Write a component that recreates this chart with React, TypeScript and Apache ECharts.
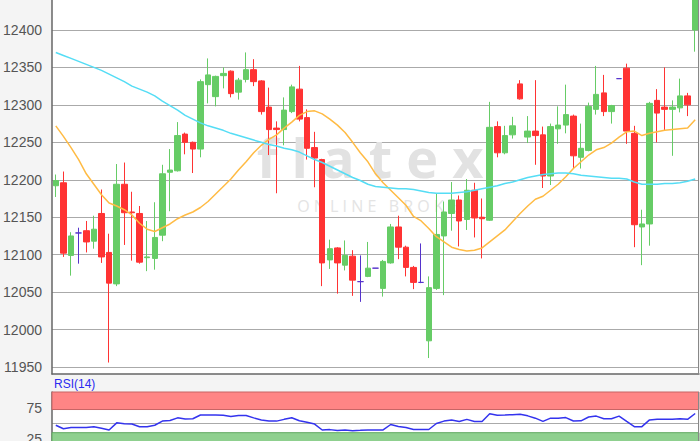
import React, { useEffect, useRef } from "react";
import * as echarts from "echarts";

const opens = [12192,12196,12099,12129,12132,12118,12155,12103,12061,12194,12157,12155,12096,12095,12126,12210,12212,12261,12250,12241,12327,12311,12339,12345,12317,12334,12347,12332,12297,12269,12267,12291,12321,12283,12243,12227,12093,12109,12086,12098,12064,12071,12082,12055,12089,12137,12110,12083,12063,11985,12055,12125,12155,12173,12147,12186,12150,12146,12271,12236,12260,12328,12257,12265,12260,12205,12268,12273,12285,12230,12239,12294,12316,12291,12335,12349,12262,12137,12141,12306,12297,12294,12296,12312,12400];
const closes = [12199,12102,12125,12129,12117,12134,12097,12062,12194,12156,12156,12090,12097,12123,12208,12213,12259,12250,12241,12331,12340,12338,12342,12315,12333,12347,12331,12291,12267,12267,12293,12324,12281,12242,12229,12089,12108,12089,12099,12066,12064,12082,12082,12091,12137,12110,12083,12063,12063,12056,12127,12157,12173,12145,12186,12149,12148,12270,12236,12259,12272,12308,12265,12259,12205,12271,12273,12287,12232,12242,12298,12314,12291,12299,12335,12265,12140,12141,12302,12289,12294,12297,12312,12300,12470];
const lows = [12177,12097,12072,12088,12103,12108,12089,11956,12058,12113,12092,12088,12078,12080,12118,12158,12211,12234,12209,12230,12302,12298,12322,12310,12307,12330,12325,12287,12233,12182,12246,12289,12278,12227,12190,12058,12081,12048,12079,12045,12037,12070,12082,12044,12088,12094,12071,12054,12062,11962,12053,12046,12132,12111,12133,12123,12095,12145,12230,12234,12255,12307,12249,12220,12189,12193,12248,12262,12215,12215,12238,12287,12285,12275,12335,12248,12110,12086,12112,12250,12266,12232,12290,12285,12371];
const highs = [12207,12211,12130,12136,12145,12152,12187,12128,12221,12223,12184,12165,12145,12170,12220,12241,12277,12263,12251,12334,12362,12339,12350,12346,12336,12370,12361,12333,12323,12278,12310,12327,12352,12294,12264,12228,12120,12110,12119,12106,12099,12117,12082,12093,12141,12152,12112,12085,12115,12071,12182,12171,12197,12179,12201,12196,12175,12304,12278,12272,12284,12333,12285,12333,12271,12275,12298,12327,12287,12275,12303,12352,12340,12300,12335,12355,12272,12160,12304,12321,12350,12306,12335,12316,12480];

const maShort = [12272,12258,12243,12227,12208,12194,12180,12169,12165,12160,12153,12142,12134,12131,12136,12141,12148,12153,12157,12163,12171,12181,12191,12201,12213,12224,12236,12246,12254,12260,12269,12277,12286,12291,12292,12288,12281,12273,12263,12250,12236,12224,12208,12196,12186,12176,12166,12151,12145,12135,12124,12117,12110,12107,12105,12106,12109,12117,12125,12133,12144,12155,12165,12174,12178,12186,12194,12204,12215,12224,12233,12240,12243,12249,12257,12264,12265,12259,12262,12264,12266,12267,12268,12269,12280];
const maLong = [12370,12366,12362,12358,12354,12350,12346,12341,12336,12331,12325,12321,12317,12312,12305,12299,12293,12286,12281,12276,12272,12269,12266,12262,12259,12256,12253,12250,12247,12245,12242,12240,12237,12232,12227,12223,12218,12213,12208,12203,12199,12194,12191,12190,12189,12188,12188,12187,12185,12183,12182,12182,12182,12183,12184,12186,12188,12190,12192,12195,12197,12200,12203,12205,12207,12208,12209,12209,12208,12206,12205,12204,12203,12202,12202,12201,12197,12194,12194,12194,12195,12195,12196,12198,12201];
const rsi = [46.9,41.3,43.2,43.2,43.2,44.6,42.2,39.4,50.7,49.4,48.8,44.6,44.6,46.9,53.5,54.4,58.7,56.8,57.2,63.3,63.3,63.3,62.9,61,62.4,62.4,58.7,55.4,53.5,53.5,56.3,58.9,54,51.6,48.8,39.3,39.9,38.5,39.3,38.2,38.7,39.3,39.3,39.4,48.1,45,43.2,40.1,40.1,40.1,49.7,53.5,55.3,53,56.3,53,53,65.2,62.9,63.3,63.8,64.4,61.9,58.2,53,58.2,58.2,59.1,53.7,54,60.1,61.5,57.2,57.2,61.5,53,44.6,44.6,55.4,56.3,56.3,56.3,57.2,56.3,65.7];

const priceTicks = [11950,12000,12050,12100,12150,12200,12250,12300,12350,12400];
const rsiLabels = [25, 75];
const rsiGrid = [50];
const rsiOverbought = [72, 100];
const rsiOversold = [0, 35];

const UP = "#66cc66";
const DOWN = "#ff3333";
const FLAT = "#5533cc";

export default function App() {
  const ref = useRef<HTMLDivElement>(null);
  useEffect(() => {
    if (!ref.current) return;
    const chart = echarts.init(ref.current, null, { renderer: "svg" });
    const cats = opens.map((_, i) => String(i + 1));
    const candles = opens.map((o, i) => {
      const v = [o, closes[i], lows[i], highs[i]];
      if (o === closes[i]) {
        return {
          value: v,
          itemStyle: { color: FLAT, color0: FLAT, borderColor: FLAT, borderColor0: FLAT, borderColorDoji: FLAT },
        };
      }
      return v;
    });
    const axisLabelStyle = {
      color: "#555", fontSize: 14, fontFamily: "Liberation Sans, Arial, sans-serif", margin: 10,
      formatter: (v: number) => String(v),
    };
    chart.setOption({
      animation: false,
      backgroundColor: "#f4f4f4",
      grid: [
        { left: 52, right: 1, top: 0, height: 374, show: true, backgroundColor: "#ffffff", borderWidth: 0 },
        { left: 52, right: 1, top: 392, height: 62.6, show: true, backgroundColor: "#ffffff", borderWidth: 0 },
      ],
      xAxis: [
        {
          type: "category", gridIndex: 0, data: cats, boundaryGap: true,
          axisLine: { show: true, lineStyle: { color: "#666", width: 1.5 } },
          axisTick: { show: false }, axisLabel: { show: false }, splitLine: { show: false },
        },
        {
          type: "category", gridIndex: 1, data: cats, boundaryGap: true,
          axisLine: { show: false }, axisTick: { show: false }, axisLabel: { show: false }, splitLine: { show: false },
        },
      ],
      yAxis: [
        {
          type: "value", gridIndex: 0, min: 11940.7, max: 12440, scale: true,
          axisLine: { show: true, lineStyle: { color: "#666", width: 1.5 } },
          axisTick: { show: false, customValues: priceTicks },
          axisLabel: { ...axisLabelStyle, customValues: priceTicks },
          splitLine: { show: true, lineStyle: { color: "#aaaaaa", width: 1 } },
        },
        {
          type: "value", gridIndex: 1, min: 0, max: 100,
          axisLine: { show: true, lineStyle: { color: "#666", width: 1.5 } },
          axisTick: { show: false, customValues: rsiGrid },
          axisLabel: { ...axisLabelStyle, customValues: rsiLabels },
          splitLine: { show: true, lineStyle: { color: "#aaaaaa", width: 1 } },
        },
      ],
      graphic: [
        {
          type: "text", x: 370, y: 184, z: 1, silent: true,
          style: { text: "f l a t e x", fill: "#e2e2e2", font: "bold 54px 'Open Sans', sans-serif", textAlign: "center", textVerticalAlign: "bottom" },
        },
        {
          type: "text", x: 384, y: 205.5, z: 1, silent: true,
          style: { text: "O N L I N E   B R O K E R", fill: "#e4e4e4", font: "16px 'Open Sans', sans-serif", textAlign: "center", textVerticalAlign: "middle" },
        },
        {
          type: "text", x: 54, y: 384, z: 5, silent: true,
          style: { text: "RSI(14)", fill: "#2b2bf0", font: "12px 'Liberation Sans', Arial, sans-serif", textAlign: "left", textVerticalAlign: "middle" },
        },
        { type: "line", z: 5, shape: { x1: 698.5, y1: 0, x2: 698.5, y2: 374 }, style: { stroke: "#888", lineWidth: 1 } },
        { type: "line", z: 5, shape: { x1: 698.5, y1: 392, x2: 698.5, y2: 455 }, style: { stroke: "#888", lineWidth: 1 } },
      ],
      series: [
        {
          type: "candlestick", xAxisIndex: 0, yAxisIndex: 0, data: candles, barWidth: 6, z: 3,
          itemStyle: { color: UP, color0: DOWN, borderColor: UP, borderColor0: DOWN, borderWidth: 1 },
        },
        {
          type: "line", xAxisIndex: 0, yAxisIndex: 0, data: maShort, symbol: "none", z: 4,
          lineStyle: { color: "#ffbb44", width: 1.5 },
        },
        {
          type: "line", xAxisIndex: 0, yAxisIndex: 0, data: maLong, symbol: "none", z: 4,
          lineStyle: { color: "#55ddf5", width: 1.5 },
        },
        {
          type: "line", xAxisIndex: 1, yAxisIndex: 1, data: rsi, symbol: "none", z: 4,
          lineStyle: { color: "#3333ee", width: 1.5 },
          markArea: {
            silent: true,
            label: { show: false },
            data: [
              [
                { yAxis: rsiOverbought[0], itemStyle: { color: "#ff8585", borderColor: "#c86464", borderWidth: 1 } },
                { yAxis: rsiOverbought[1] },
              ],
              [
                { yAxis: rsiOversold[0], itemStyle: { color: "#8fd08f", borderColor: "#5fa85f", borderWidth: 1 } },
                { yAxis: rsiOversold[1] },
              ],
            ],
          },
        },
      ],
    });
    return () => chart.dispose();
  }, []);
  return <div ref={ref} style={{ position: "fixed", left: 0, top: 0, width: 700, height: 455 }} />;
}
